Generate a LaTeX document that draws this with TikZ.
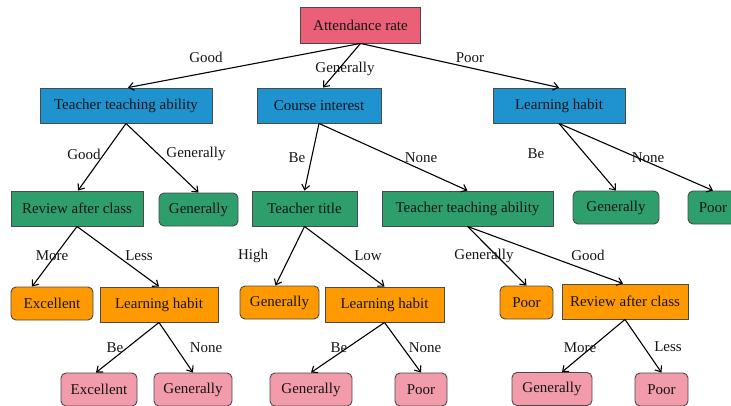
\documentclass[tikz,border=0pt]{standalone}
\usepackage{fontspec}
\setmainfont{Liberation Serif}
\usetikzlibrary{arrows.meta}

\definecolor{rootfill}{HTML}{EB5F77}
\definecolor{bluefill}{HTML}{1F92D0}
\definecolor{greenfill}{HTML}{2E9E6C}
\definecolor{orangefill}{HTML}{FF9900}
\definecolor{pinkfill}{HTML}{F29BAA}
\definecolor{boxline}{HTML}{4A4A4A}
\definecolor{txt}{HTML}{151515}

\tikzset{
  box/.style={draw=boxline, line width=0.9pt, inner sep=0pt, text=txt,
    font=\fontsize{15}{17}\selectfont},
  sq/.style={box},
  rnd/.style={box, rounded corners=5pt},
  rootbox/.style={sq, fill=rootfill},
  bluebox/.style={sq, fill=bluefill},
  greenbox/.style={sq, fill=greenfill},
  greenrnd/.style={rnd, fill=greenfill},
  orangebox/.style={sq, fill=orangefill},
  orangernd/.style={rnd, fill=orangefill},
  pinkrnd/.style={rnd, fill=pinkfill},
  sz/.style n args={2}{minimum width=#1pt, minimum height=#2pt},
  edge/.style={draw=black, line width=1.1pt,
    -{Straight Barb[length=5pt,width=8pt,line width=1.1pt]}},
  lbl/.style={text=txt, inner sep=0pt, font=\fontsize{15}{17}\selectfont}
}

\begin{document}
\begin{tikzpicture}[x=1pt,y=-1pt]
\useasboundingbox (0,0) rectangle (731,405);
\clip (0,0) rectangle (731,405);

% root
\node[rootbox, sz={120}{36}] (root) at (360.5,25) {Attendance rate};

% first level
\node[bluebox, sz={172}{35}] (tta) at (126,105.5) {Teacher teaching ability};
\node[bluebox, sz={124}{35}] (ci)  at (319,105.5) {Course interest};
\node[bluebox, sz={132}{35}] (lh)  at (559,105.5) {Learning habit};

% second level
\node[greenbox, sz={132}{35}] (rac)  at (77,208.5)   {Review after class};
\node[greenrnd, sz={79}{33}]  (gen1) at (198.5,209.5) {Generally};
\node[greenbox, sz={105}{35}] (tt)   at (304.5,208.5) {Teacher title};
\node[greenbox, sz={171}{35}] (tta2) at (467.5,208.5) {Teacher teaching ability};
\node[greenrnd, sz={86}{33}]  (gen2) at (616,207.5)   {Generally};
\node[greenrnd, sz={50}{33}]  (poor1) at (713,207.5)  {Poor};

% third level
\node[orangernd, sz={82}{33}]  (exc1) at (52,303.5)    {Excellent};
\node[orangebox, sz={118}{35}] (lh1)  at (159,304.5)   {Learning habit};
\node[orangernd, sz={79}{33}]  (gen3) at (279.5,302.5) {Generally};
\node[orangebox, sz={119}{35}] (lh2)  at (384.5,304.5) {Learning habit};
\node[orangernd, sz={53}{33}]  (poor2) at (526.5,302.5) {Poor};
\node[orangebox, sz={126}{35}] (rac2) at (625,301.5)   {Review after class};

% fourth level
\node[pinkrnd, sz={76}{33}] (exc2) at (99,389.5)  {Excellent};
\node[pinkrnd, sz={78}{33}] (gen4) at (193,389.5) {Generally};
\node[pinkrnd, sz={82}{33}] (gen5) at (311,389.5) {Generally};
\node[pinkrnd, sz={52}{33}] (poor3) at (421,389.5) {Poor};
\node[pinkrnd, sz={80}{33}] (gen6) at (552,389)   {Generally};
\node[pinkrnd, sz={53}{33}] (poor4) at (661.5,389.5) {Poor};

% connectors
\draw[edge] (root.south) -- ([xshift=2pt]tta.north);
\draw[edge] (root.south) -- ([xshift=4pt]ci.north);
\draw[edge] (root.south) -- (lh.north);

\draw[edge] (tta.south) -- ([xshift=1pt]rac.north);
\draw[edge] (tta.south) -- (gen1.north);
\draw[edge] (ci.south) -- (tt.north);
\draw[edge] (ci.south) -- (tta2.north);
\draw[edge] (lh.south) -- (gen2.north);
\draw[edge] (lh.south) -- (poor1.north);

\draw[edge] (rac.south) -- ([xshift=-20pt]exc1.north);
\draw[edge] (rac.south) -- (lh1.north);
\draw[edge] (tt.south) -- ([xshift=-4pt]gen3.north);
\draw[edge] (tt.south) -- (lh2.north);
\draw[edge] (tta2.south) -- (poor2.north);
\draw[edge] (tta2.south) -- ([xshift=-2pt]rac2.north);

\draw[edge] (lh1.south) -- ([xshift=-3pt]exc2.north);
\draw[edge] (lh1.south) -- (gen4.north);
\draw[edge] (lh2.south) -- (gen5.north);
\draw[edge] (lh2.south) -- (poor3.north);
\draw[edge] (rac2.south) -- ([xshift=10pt]gen6.north);
\draw[edge] (rac2.south) -- (poor4.north);

% branch labels
\node[lbl] (l1) at (206,57) {Good};
\node[lbl] (l2) at (345,69) {Generally};
\node[lbl] (l3) at (470,58) {Poor};

\node[lbl] (l4) at (84,154)  {Good};
\node[lbl] (l5) at (196,154) {Generally};
\node[lbl] (l6) at (297,158) {Be};
\node[lbl] (l7) at (421,158) {None};
\node[lbl] (l8) at (536,154) {Be};
\node[lbl] (l9) at (648,158) {None};

\node[lbl] (l10) at (52,256)  {More};
\node[lbl] (l11) at (139,256) {Less};
\node[lbl] (l12) at (253,256) {High};
\node[lbl] (l13) at (368,256) {Low};
\node[lbl] (l14) at (484,256) {Generally};
\node[lbl] (l15) at (588,255) {Good};

\node[lbl] (l16) at (115,348) {Be};
\node[lbl] (l17) at (206,348) {None};
\node[lbl] (l18) at (339,348) {Be};
\node[lbl] (l19) at (425,348) {None};
\node[lbl] (l20) at (580,348) {More};
\node[lbl] (l21) at (668,347) {Less};
\end{tikzpicture}
\end{document}
